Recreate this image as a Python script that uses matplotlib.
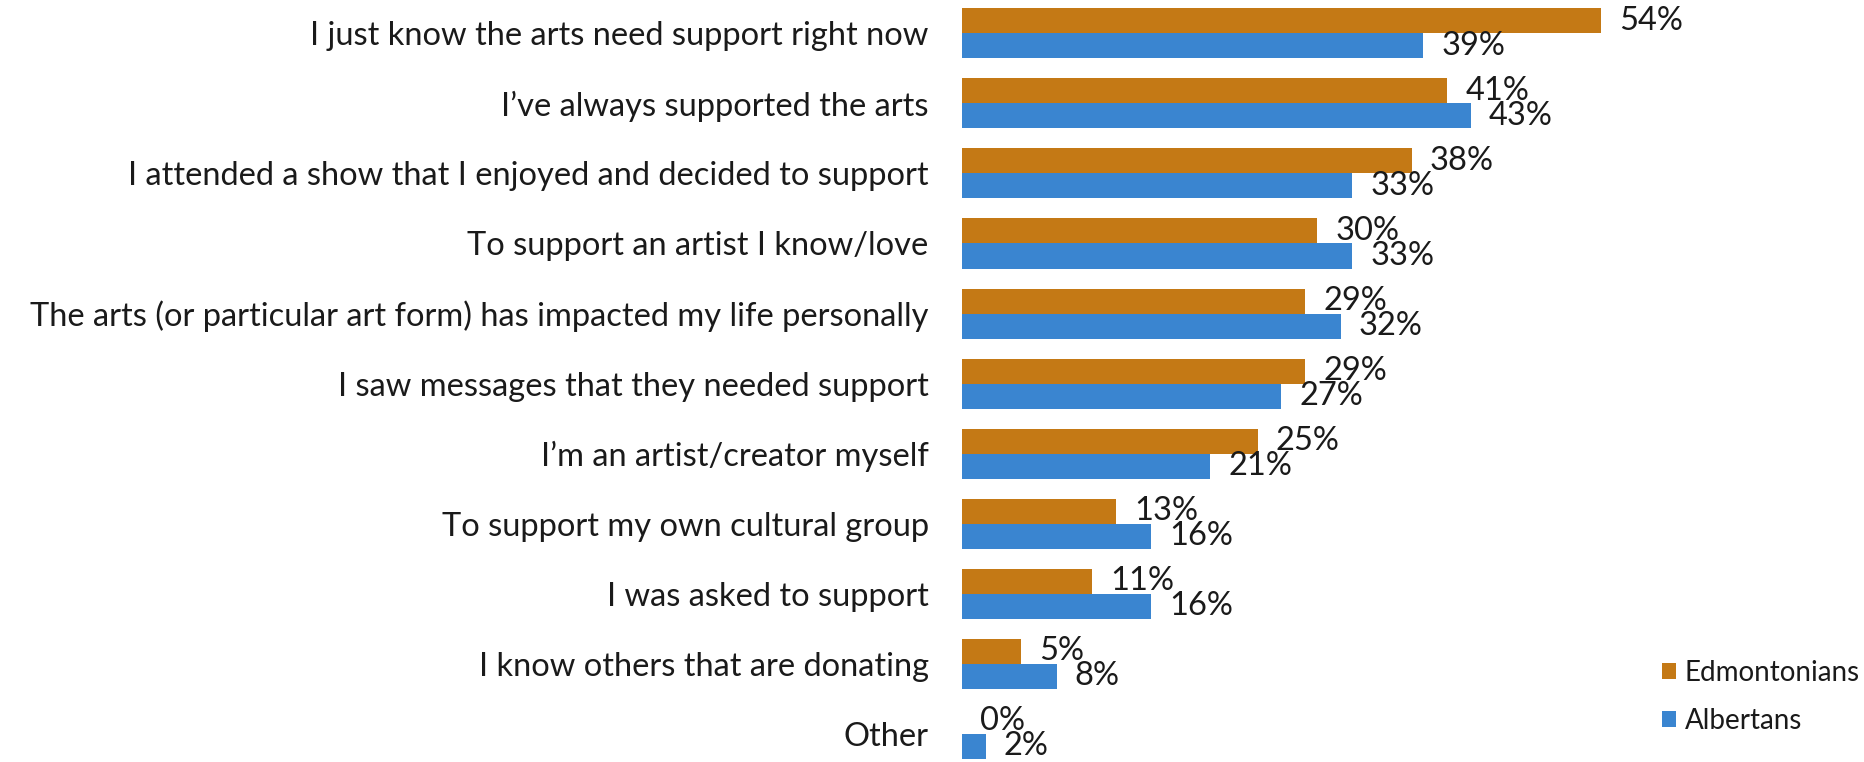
import matplotlib
matplotlib.use("Agg")
import matplotlib.pyplot as plt
import numpy as np

categories = [
    "I just know the arts need support right now",
    "I\u2019ve always supported the arts",
    "I attended a show that I enjoyed and decided to support",
    "To support an artist I know/love",
    "The arts (or particular art form) has impacted my life personally",
    "I saw messages that they needed support",
    "I\u2019m an artist/creator myself",
    "To support my own cultural group",
    "I was asked to support",
    "I know others that are donating",
    "Other",
]
edmontonians = [54, 41, 38, 30, 29, 29, 25, 13, 11, 5, 0]
albertans = [39, 43, 33, 33, 32, 27, 21, 16, 16, 8, 2]
series_names = ["Edmontonians", "Albertans"]

ORANGE = "#C47915"
BLUE = "#3A85D0"
TEXT = "#1a1a1a"

plt.rcParams["font.family"] = ["Lato", "DejaVu Sans"]

W, H = 1865, 762
fig = plt.figure(figsize=(W / 100, H / 100), dpi=100)
ax = fig.add_axes([962 / W, 0.0, 710 / W, 1.0])

y = np.arange(len(categories))
h = 0.357

b1 = ax.barh(y - h / 2, edmontonians, height=h, color=ORANGE, label=series_names[0])
b2 = ax.barh(y + h / 2, albertans, height=h, color=BLUE, label=series_names[1])

for bars, vals in ((b1, edmontonians), (b2, albertans)):
    for rect, v in zip(bars, vals):
        ax.annotate(f"{v}%", xy=(rect.get_width(), rect.get_y() + rect.get_height() / 2),
                    xytext=(13, 0), textcoords="offset points",
                    ha="left", va="center", fontsize=23.5, color=TEXT)

ax.set_xlim(0, 60)
ax.set_ylim(10.40, -0.475)
ax.set_yticks(y)
ax.set_yticklabels(categories, fontsize=23.5, color=TEXT)
ax.tick_params(axis="y", length=0, pad=24)
ax.set_xticks([])
for s in ax.spines.values():
    s.set_visible(False)

fig.legend(handles=[b1, b2], labels=series_names, loc="upper left",
           bbox_to_anchor=(1662 / W, 0.1345), frameon=False, borderpad=0,
           borderaxespad=0, fontsize=20, handlelength=0.5, handleheight=0.5,
           handletextpad=0.32, labelspacing=0.8, labelcolor=TEXT)

fig.savefig("out.png", dpi=100)
